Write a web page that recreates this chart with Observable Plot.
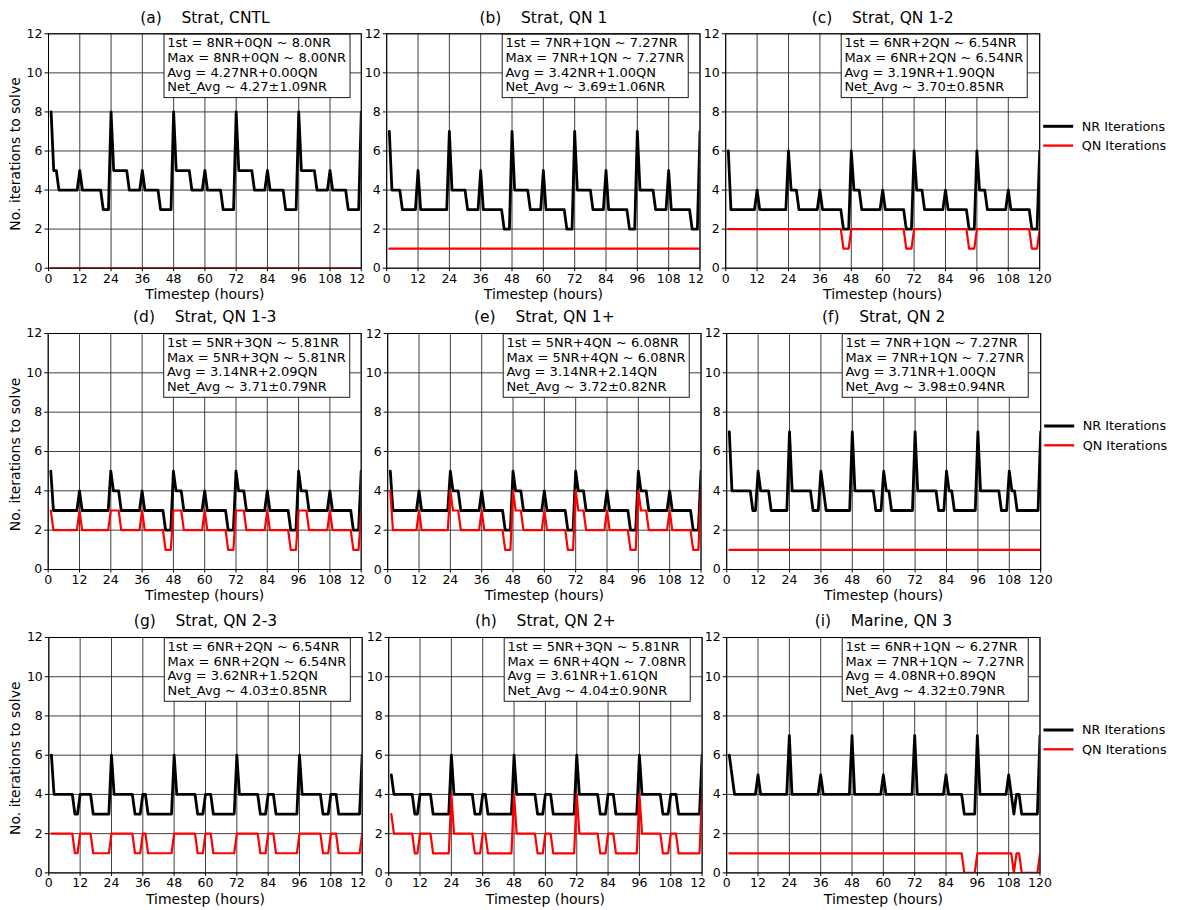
<!DOCTYPE html>
<html><head><meta charset="utf-8">
<script src="https://cdn.jsdelivr.net/npm/d3@7"></script>
<script src="https://cdn.jsdelivr.net/npm/@observablehq/plot@0.6"></script>
<style>
body{margin:0;background:#fff;}
#chart{position:relative;width:1179px;height:910px;background:#fff;overflow:hidden;}
#chart svg{position:absolute;}
#chart svg text{white-space:pre;}
</style></head><body><div id="chart"></div>
<script>
// ---------- data ----------
const hours = d3.range(1, 121); // timestep index (hours 1..120)
const xTicks = [0,12,24,36,48,60,72,84,96,108,120];
const yTicks = [0,2,4,6,8,10,12];
const seriesNames = ["NR Iterations", "QN Iterations"];
const seriesColors = ["black", "red"];

const nrA = [
8,5,5,4,4,4,4,4,4,4,4,5,4,4,4,4,4,4,4,4,3,3,3,8,
5,5,5,5,5,5,4,4,4,4,4,5,4,4,4,4,4,4,3,3,3,3,3,8,
5,5,5,5,5,5,4,4,4,4,4,5,4,4,4,4,4,4,3,3,3,3,3,8,
5,5,5,5,5,5,4,4,4,4,4,5,4,4,4,4,4,4,3,3,3,3,3,8,
5,5,5,5,5,5,4,4,4,4,4,5,4,4,4,4,4,4,3,3,3,3,3,8];
const qnA = [
0,0,0,0,0,0,0,0,0,0,0,0,0,0,0,0,0,0,0,0,0,0,0,0,
0,0,0,0,0,0,0,0,0,0,0,0,0,0,0,0,0,0,0,0,0,0,0,0,
0,0,0,0,0,0,0,0,0,0,0,0,0,0,0,0,0,0,0,0,0,0,0,0,
0,0,0,0,0,0,0,0,0,0,0,0,0,0,0,0,0,0,0,0,0,0,0,0,
0,0,0,0,0,0,0,0,0,0,0,0,0,0,0,0,0,0,0,0,0,0,0,0];

const nrB = [
7,4,4,4,4,3,3,3,3,3,3,5,3,3,3,3,3,3,3,3,3,3,3,7,
4,4,4,4,4,4,3,3,3,3,3,5,3,3,3,3,3,3,3,3,2,2,2,7,
4,4,4,4,4,4,3,3,3,3,3,5,3,3,3,3,3,3,3,3,2,2,2,7,
4,4,4,4,4,4,3,3,3,3,3,5,3,3,3,3,3,3,3,3,2,2,2,7,
4,4,4,4,4,4,3,3,3,3,3,5,3,3,3,3,3,3,3,3,2,2,2,7];
const qnB = [
1,1,1,1,1,1,1,1,1,1,1,1,1,1,1,1,1,1,1,1,1,1,1,1,
1,1,1,1,1,1,1,1,1,1,1,1,1,1,1,1,1,1,1,1,1,1,1,1,
1,1,1,1,1,1,1,1,1,1,1,1,1,1,1,1,1,1,1,1,1,1,1,1,
1,1,1,1,1,1,1,1,1,1,1,1,1,1,1,1,1,1,1,1,1,1,1,1,
1,1,1,1,1,1,1,1,1,1,1,1,1,1,1,1,1,1,1,1,1,1,1,1];

const nrC = [
6,3,3,3,3,3,3,3,3,3,3,4,3,3,3,3,3,3,3,3,3,3,3,6,
4,4,4,3,3,3,3,3,3,3,3,4,3,3,3,3,3,3,3,3,2,2,2,6,
4,4,4,3,3,3,3,3,3,3,3,4,3,3,3,3,3,3,3,3,2,2,2,6,
4,4,4,3,3,3,3,3,3,3,3,4,3,3,3,3,3,3,3,3,2,2,2,6,
4,4,4,3,3,3,3,3,3,3,3,4,3,3,3,3,3,3,3,3,2,2,2,6];
const qnC = [
2,2,2,2,2,2,2,2,2,2,2,2,2,2,2,2,2,2,2,2,2,2,2,2,
2,2,2,2,2,2,2,2,2,2,2,2,2,2,2,2,2,2,2,2,1,1,1,2,
2,2,2,2,2,2,2,2,2,2,2,2,2,2,2,2,2,2,2,2,1,1,1,2,
2,2,2,2,2,2,2,2,2,2,2,2,2,2,2,2,2,2,2,2,1,1,1,2,
2,2,2,2,2,2,2,2,2,2,2,2,2,2,2,2,2,2,2,2,1,1,1,2];

const nrD = [
5,3,3,3,3,3,3,3,3,3,3,4,3,3,3,3,3,3,3,3,3,3,3,5,
4,4,4,3,3,3,3,3,3,3,3,4,3,3,3,3,3,3,3,3,2,2,2,5,
4,4,4,3,3,3,3,3,3,3,3,4,3,3,3,3,3,3,3,3,2,2,2,5,
4,4,4,3,3,3,3,3,3,3,3,4,3,3,3,3,3,3,3,3,2,2,2,5,
4,4,4,3,3,3,3,3,3,3,3,4,3,3,3,3,3,3,3,3,2,2,2,5];
const qnD = [
3,2,2,2,2,2,2,2,2,2,2,3,2,2,2,2,2,2,2,2,2,2,2,3,
3,3,3,2,2,2,2,2,2,2,2,3,2,2,2,2,2,2,2,2,1,1,1,3,
3,3,3,2,2,2,2,2,2,2,2,3,2,2,2,2,2,2,2,2,1,1,1,3,
3,3,3,2,2,2,2,2,2,2,2,3,2,2,2,2,2,2,2,2,1,1,1,3,
3,3,3,2,2,2,2,2,2,2,2,3,2,2,2,2,2,2,2,2,1,1,1,3];

const nrE = [
5,3,3,3,3,3,3,3,3,3,3,4,3,3,3,3,3,3,3,3,3,3,3,5,
4,4,4,3,3,3,3,3,3,3,3,4,3,3,3,3,3,3,3,3,2,2,2,5,
4,4,4,3,3,3,3,3,3,3,3,4,3,3,3,3,3,3,3,3,2,2,2,5,
4,4,4,3,3,3,3,3,3,3,3,4,3,3,3,3,3,3,3,3,2,2,2,5,
4,4,4,3,3,3,3,3,3,3,3,4,3,3,3,3,3,3,3,3,2,2,2,5];
const qnE = [
4,2,2,2,2,2,2,2,2,2,2,3,2,2,2,2,2,2,2,2,2,2,2,4,
3,3,3,2,2,2,2,2,2,2,2,3,2,2,2,2,2,2,2,2,1,1,1,4,
3,3,3,2,2,2,2,2,2,2,2,3,2,2,2,2,2,2,2,2,1,1,1,4,
3,3,3,2,2,2,2,2,2,2,2,3,2,2,2,2,2,2,2,2,1,1,1,4,
3,3,3,2,2,2,2,2,2,2,2,3,2,2,2,2,2,2,2,2,1,1,1,4];

const nrF = [
7,4,4,4,4,4,4,4,4,3,3,5,4,4,4,4,3,3,3,3,3,3,3,7,
4,4,4,4,4,4,4,4,3,3,3,5,4,3,3,3,3,3,3,3,3,3,3,7,
4,4,4,4,4,4,4,4,3,3,3,5,4,4,3,3,3,3,3,3,3,3,3,7,
4,4,4,4,4,4,4,4,3,3,3,5,4,4,3,3,3,3,3,3,3,3,3,7,
4,4,4,4,4,4,4,4,3,3,3,5,4,4,3,3,3,3,3,3,3,3,3,7];
const qnF = [
1,1,1,1,1,1,1,1,1,1,1,1,1,1,1,1,1,1,1,1,1,1,1,1,
1,1,1,1,1,1,1,1,1,1,1,1,1,1,1,1,1,1,1,1,1,1,1,1,
1,1,1,1,1,1,1,1,1,1,1,1,1,1,1,1,1,1,1,1,1,1,1,1,
1,1,1,1,1,1,1,1,1,1,1,1,1,1,1,1,1,1,1,1,1,1,1,1,
1,1,1,1,1,1,1,1,1,1,1,1,1,1,1,1,1,1,1,1,1,1,1,1];

const nrG = [
6,4,4,4,4,4,4,4,4,3,3,4,4,4,4,4,3,3,3,3,3,3,3,6,
4,4,4,4,4,4,4,4,3,3,3,4,4,3,3,3,3,3,3,3,3,3,3,6,
4,4,4,4,4,4,4,4,3,3,3,4,4,4,3,3,3,3,3,3,3,3,3,6,
4,4,4,4,4,4,4,4,3,3,3,4,4,4,3,3,3,3,3,3,3,3,3,6,
4,4,4,4,4,4,4,4,3,3,3,4,4,4,3,3,3,3,3,3,3,3,3,6];
const qnG = [
2,2,2,2,2,2,2,2,2,1,1,2,2,2,2,2,1,1,1,1,1,1,1,2,
2,2,2,2,2,2,2,2,1,1,1,2,2,1,1,1,1,1,1,1,1,1,1,2,
2,2,2,2,2,2,2,2,1,1,1,2,2,2,1,1,1,1,1,1,1,1,1,2,
2,2,2,2,2,2,2,2,1,1,1,2,2,2,1,1,1,1,1,1,1,1,1,2,
2,2,2,2,2,2,2,2,1,1,1,2,2,2,1,1,1,1,1,1,1,1,1,2];

const nrH = [
5,4,4,4,4,4,4,4,4,3,3,4,4,4,4,4,3,3,3,3,3,3,3,6,
4,4,4,4,4,4,4,4,3,3,3,4,4,3,3,3,3,3,3,3,3,3,3,6,
4,4,4,4,4,4,4,4,3,3,3,4,4,4,3,3,3,3,3,3,3,3,3,6,
4,4,4,4,4,4,4,4,3,3,3,4,4,4,3,3,3,3,3,3,3,3,3,6,
4,4,4,4,4,4,4,4,3,3,3,4,4,4,3,3,3,3,3,3,3,3,3,6];
const qnH = [
3,2,2,2,2,2,2,2,2,1,1,2,2,2,2,2,1,1,1,1,1,1,1,4,
2,2,2,2,2,2,2,2,1,1,1,2,2,1,1,1,1,1,1,1,1,1,1,4,
2,2,2,2,2,2,2,2,1,1,1,2,2,2,1,1,1,1,1,1,1,1,1,4,
2,2,2,2,2,2,2,2,1,1,1,2,2,2,1,1,1,1,1,1,1,1,1,4,
2,2,2,2,2,2,2,2,1,1,1,2,2,2,1,1,1,1,1,1,1,1,1,4];

const nrI = [
6,5,4,4,4,4,4,4,4,4,4,5,4,4,4,4,4,4,4,4,4,4,4,7,
4,4,4,4,4,4,4,4,4,4,4,5,4,4,4,4,4,4,4,4,4,4,4,7,
4,4,4,4,4,4,4,4,4,4,4,5,4,4,4,4,4,4,4,4,4,4,4,7,
4,4,4,4,4,4,4,4,4,4,4,5,4,4,4,4,4,4,3,3,3,3,3,7,
4,4,4,4,4,4,4,4,4,4,4,5,4,3,4,4,3,3,3,3,3,3,3,7];
const qnI = [
1,1,1,1,1,1,1,1,1,1,1,1,1,1,1,1,1,1,1,1,1,1,1,1,
1,1,1,1,1,1,1,1,1,1,1,1,1,1,1,1,1,1,1,1,1,1,1,1,
1,1,1,1,1,1,1,1,1,1,1,1,1,1,1,1,1,1,1,1,1,1,1,1,
1,1,1,1,1,1,1,1,1,1,1,1,1,1,1,1,1,1,0,0,0,0,0,1,
1,1,1,1,1,1,1,1,1,1,1,1,1,0,1,1,0,0,0,0,0,0,0,1];

const panelIds = ["(a)","(b)","(c)","(d)","(e)","(f)","(g)","(h)","(i)"];
const panelNames = ["Strat, CNTL","Strat, QN 1","Strat, QN 1-2","Strat, QN 1-3","Strat, QN 1+","Strat, QN 2","Strat, QN 2-3","Strat, QN 2+","Marine, QN 3"];
const nrSeries = [nrA,nrB,nrC,nrD,nrE,nrF,nrG,nrH,nrI];
const qnSeries = [qnA,qnB,qnC,qnD,qnE,qnF,qnG,qnH,qnI];
const statLines = [
 ["1st = 8NR+0QN ~ 8.0NR","Max = 8NR+0QN ~ 8.00NR","Avg = 4.27NR+0.00QN","Net_Avg ~ 4.27±1.09NR"],
 ["1st = 7NR+1QN ~ 7.27NR","Max = 7NR+1QN ~ 7.27NR","Avg = 3.42NR+1.00QN","Net_Avg ~ 3.69±1.06NR"],
 ["1st = 6NR+2QN ~ 6.54NR","Max = 6NR+2QN ~ 6.54NR","Avg = 3.19NR+1.90QN","Net_Avg ~ 3.70±0.85NR"],
 ["1st = 5NR+3QN ~ 5.81NR","Max = 5NR+3QN ~ 5.81NR","Avg = 3.14NR+2.09QN","Net_Avg ~ 3.71±0.79NR"],
 ["1st = 5NR+4QN ~ 6.08NR","Max = 5NR+4QN ~ 6.08NR","Avg = 3.14NR+2.14QN","Net_Avg ~ 3.72±0.82NR"],
 ["1st = 7NR+1QN ~ 7.27NR","Max = 7NR+1QN ~ 7.27NR","Avg = 3.71NR+1.00QN","Net_Avg ~ 3.98±0.94NR"],
 ["1st = 6NR+2QN ~ 6.54NR","Max = 6NR+2QN ~ 6.54NR","Avg = 3.62NR+1.52QN","Net_Avg ~ 4.03±0.85NR"],
 ["1st = 5NR+3QN ~ 5.81NR","Max = 6NR+4QN ~ 7.08NR","Avg = 3.61NR+1.61QN","Net_Avg ~ 4.04±0.90NR"],
 ["1st = 6NR+1QN ~ 6.27NR","Max = 7NR+1QN ~ 7.27NR","Avg = 4.08NR+0.89QN","Net_Avg ~ 4.32±0.79NR"]
];
const xLabel = "Timestep (hours)";
const yLabel = "No. iterations to solve";

// ---------- layout ----------
const colLeft  = [[48,385.7,725.3],[47.7,386.7,726],[48.3,388.3,726]];
const colRight = [[360.8,699,1039.3],[360.7,700,1040],[361.7,701.7,1039.3]];
const rowTop = [33.3,333.3,637.3];
const rowBottom = [267.7,569.3,872.7];
const FONT = "DejaVu Sans";

const mctx = document.createElement("canvas").getContext("2d");
mctx.font = `13px "${FONT}"`;

function statBox(lines) {
  return (index, scales, values, dims) => {
    const x0 = dims.marginLeft + 116, y0 = dims.marginTop + 0.8;
    const w = Math.max(...lines.map(t => mctx.measureText(t).width)) + 7;
    const g = d3.create("svg:g");
    g.append("rect").attr("x", x0).attr("y", y0).attr("width", w).attr("height", 63.5)
      .attr("fill", "white").attr("stroke", "#1a1a1a").attr("stroke-width", 1);
    g.selectAll("text").data(lines).join("text")
      .attr("x", x0 + 3.2).attr("y", (d, i) => y0 + 13 + i * 14.8)
      .attr("text-anchor", "start")
      .attr("font-size", 13).attr("fill", "black").text(d => d);
    return g.node();
  };
}
function legendMark() {
  return (index, scales, values, dims) => {
    const x0 = dims.width - dims.marginRight + 4;
    const g = d3.create("svg:g");
    seriesNames.forEach((name, i) => {
      const y = dims.marginTop + 93 + i * 19.3;
      g.append("line").attr("x1", x0).attr("x2", x0 + 30).attr("y1", y).attr("y2", y)
        .attr("stroke", seriesColors[i]).attr("stroke-width", i === 0 ? 3 : 2.3);
      g.append("text").attr("x", x0 + 38.5).attr("y", y).attr("dy", "0.35em")
        .attr("text-anchor", "start")
        .attr("font-size", 12.8).attr("fill", "black").text(name);
    });
    return g.node();
  };
}

const chart = document.getElementById("chart");
for (let p = 0; p < 9; p++) {
  const r = Math.floor(p / 3), c = p % 3;
  const pl = colLeft[r][c], pr = colRight[r][c], pt = rowTop[r], pb = rowBottom[r];
  const mL = c === 0 ? pl : 21.2;
  const mR = c === 2 ? 1179 - pr : 20;
  const mT = r === 0 ? pt : 28;
  const mB = 35;
  const nrData = hours.map((h, i) => ({h, v: nrSeries[p][i]}));
  const qnData = hours.map((h, i) => ({h, v: qnSeries[p][i]}));
  const marks = [
    Plot.gridX(xTicks, {stroke: "#2a2a2a", strokeOpacity: 1, strokeWidth: 0.9}),
    Plot.gridY(yTicks, {stroke: "#2a2a2a", strokeOpacity: 1, strokeWidth: 0.9}),
    Plot.line(nrData, {x: "h", y: "v", stroke: seriesColors[0], strokeWidth: 2.8, clip: true}),
    Plot.line(qnData, {x: "h", y: "v", stroke: seriesColors[1], strokeWidth: 2.2, clip: true}),
    statBox(statLines[p]),
    Plot.axisX(xTicks, {tickSize: 3.5, tickPadding: 2, label: null, fontSize: 12.5}),
    Plot.axisY(yTicks, {tickSize: 3.5, tickPadding: 2.5, label: null, fontSize: 12.5}),
    Plot.text([panelIds[p] + "    " + panelNames[p]], {frameAnchor: "top", dy: -16, lineAnchor: "middle", textAnchor: "middle", fontSize: 15.5}),
    Plot.text([xLabel], {frameAnchor: "bottom", dy: 26.5, lineAnchor: "middle", textAnchor: "middle", fontSize: 14}),
    Plot.frame({stroke: "black", strokeWidth: 1})
  ];
  if (c === 0) marks.push(Plot.text([yLabel], {frameAnchor: "left", dx: -33, dy: 3, rotate: -90, lineAnchor: "middle", textAnchor: "middle", fontSize: 14}));
  if (c === 2) marks.push(legendMark());
  const svg = Plot.plot({
    width: mL + (pr - pl) + mR,
    height: mT + (pb - pt) + mB,
    marginLeft: mL, marginRight: mR, marginTop: mT, marginBottom: mB,
    x: {domain: [0, 120]},
    y: {domain: [0, 12]},
    style: {fontFamily: FONT, fontSize: "12.5px", background: "white", color: "black", overflow: "hidden"},
    marks
  });
  svg.style.left = (pl - mL) + "px";
  svg.style.top = (pt - mT) + "px";
  chart.appendChild(svg);
}
</script></body></html>
